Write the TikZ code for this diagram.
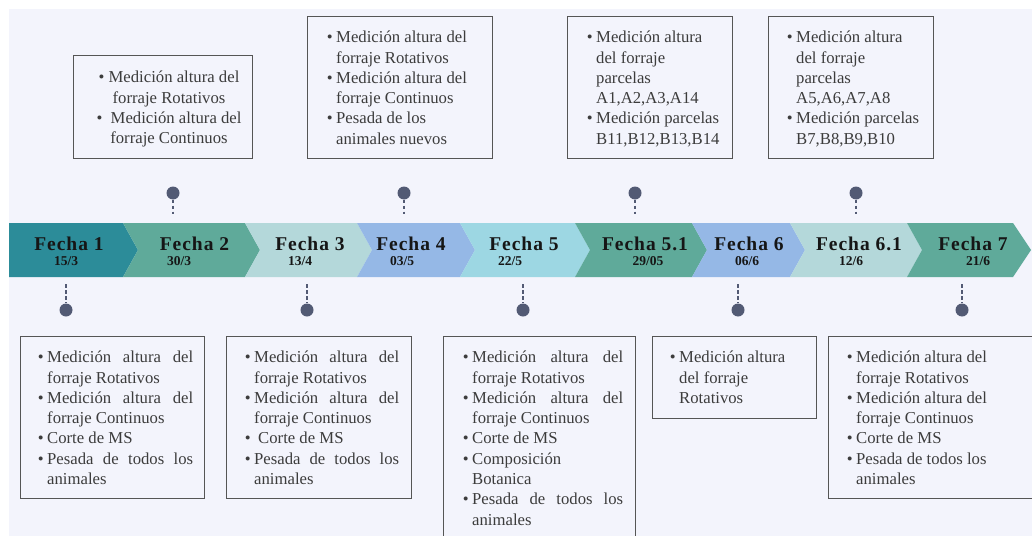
\documentclass[tikz,border=0pt]{standalone}
\usepackage{fontspec}
\setmainfont{Liberation Serif}
\newfontfamily\fechafont[LetterSpace=5]{Liberation Serif}
\definecolor{bg}{HTML}{F3F4FC}
\definecolor{txtc}{HTML}{3C3C3C}
\definecolor{boxc}{HTML}{555555}
\definecolor{fc}{HTML}{161616}
\definecolor{pinc}{HTML}{525A74}
\definecolor{cA}{HTML}{2C8C99}
\definecolor{cB}{HTML}{5FAA9A}
\definecolor{cC}{HTML}{B4D8DA}
\definecolor{cD}{HTML}{95B8E6}
\definecolor{cE}{HTML}{9DD7E3}
\newcommand{\bu}{\llap{\textbullet\kern3.5pt}}
\newcommand{\jl}[2]{\makebox[#1][s]{#2}}
\begin{document}
\begin{tikzpicture}[x=1pt,y=-1pt,
  txt/.style={font=\fontsize{16.7}{20.3}\selectfont, text=txtc, inner sep=0pt, align=left, anchor=north west},
  bx/.style={draw=boxc, line width=1.3pt, fill=bg, inner sep=0pt, anchor=north west},
  flab/.style={font=\fechafont\bfseries\fontsize{19.5}{21}\selectfont, text=fc, inner sep=0pt, anchor=base},
  fdate/.style={font=\bfseries\fontsize{13.5}{15}\selectfont, text=fc, inner sep=0pt, anchor=base},
  pin/.style={circle, fill=pinc, minimum size=13pt, inner sep=0pt},
  dashln/.style={draw=pinc, line width=2pt, dash pattern=on 3.5pt off 2.5pt}]
\useasboundingbox (0,0) rectangle (1032,535);
\clip (0,0) rectangle (1032,535);
\fill[bg] (9,9) rectangle (1040,540);
% chevrons
\fill[cA] (9,223) -- (123,223) -- (138,250) -- (123,277) -- (9,277) -- cycle;
\foreach \a/\b/\c in {123/245/cB, 245/357/cC, 357/460/cD, 460/575/cE, 575/692/cB, 692/790/cD, 790/907/cC}
  \fill[\c] (\a,223) -- (\b,223) -- ++(15,27) -- (\b,277) -- (\a,277) -- ++(15,-27) -- cycle;
\fill[cB] (907,223) -- (1013,223) -- (1031,250) -- (1013,277) -- (907,277) -- (922,250) -- cycle;
% labels
\node[flab] (f1) at (69,250) {Fecha 1};
\node[flab] (f2) at (194.5,250) {Fecha 2};
\node[flab] (f3) at (310,250) {Fecha 3};
\node[flab] (f4) at (411,250) {Fecha 4};
\node[flab] (f5) at (524,250) {Fecha 5};
\node[flab] (f51) at (645,250) {Fecha 5.1};
\node[flab] (f6) at (749,250) {Fecha 6};
\node[flab] (f61) at (859,250) {Fecha 6.1};
\node[flab] (f7) at (973,250) {Fecha 7};
\node[fdate] (d1) at (66,265) {15/3};
\node[fdate] (d2) at (179,265) {30/3};
\node[fdate] (d3) at (300,265) {13/4};
\node[fdate] (d4) at (402,265) {03/5};
\node[fdate] (d5) at (510,265) {22/5};
\node[fdate] (d51) at (648,265) {29/05};
\node[fdate] (d6) at (747,265) {06/6};
\node[fdate] (d61) at (851,265) {12/6};
\node[fdate] (d7) at (978,265) {21/6};
% pins top
\foreach \n/\x in {P2/173, P4/404, P51/635, P61/856}{
  \node[pin] (\n) at (\x,193) {};
  \coordinate (e\n) at (\x,214);
  \draw[dashln] (\n.south) -- (e\n);
}
% pins bottom
\foreach \n/\x in {P1/66, P3/307, P5/523, P6/738, P7/962}{
  \node[pin] (\n) at (\x,310) {};
  \coordinate (e\n) at (\x,284);
  \draw[dashln] (e\n) -- (\n.north);
}
% boxes top
\node[bx, minimum width=179pt, minimum height=103pt] (T1) at (73,55) {};
\node[bx, minimum width=185pt, minimum height=142pt] (T2) at (307,16) {};
\node[bx, minimum width=165pt, minimum height=142pt] (T3) at (567,16) {};
\node[bx, minimum width=165pt, minimum height=142pt] (T4) at (768,16) {};
% boxes bottom
\node[bx, minimum width=184pt, minimum height=162pt] (B1) at (20,336) {};
\node[bx, minimum width=185pt, minimum height=162pt] (B2) at (226,336) {};
\node[bx, minimum width=192pt, minimum height=220pt] (B3) at (443,336) {};
\node[bx, minimum width=164pt, minimum height=82pt] (B4) at (652,336) {};
\node[bx, minimum width=220pt, minimum height=162pt] (B5) at (828,336) {};
% texts top
\node[txt, align=center, anchor=north] (tT1) at (169,68.29) {\strut\textbullet\ Medición altura del\\forraje Rotativos\\\textbullet\ \ Medición altura del\\forraje Continuos};
\node[txt] (tT2) at (336,28.29) {\strut\bu Medición altura del\\forraje Rotativos\\\bu Medición altura del\\forraje Continuos\\\bu Pesada de los\\animales nuevos};
\node[txt] (tT3) at (596,28.29) {\strut\bu Medición altura\\del forraje\\parcelas\\A1,A2,A3,A14\\\bu Medición parcelas\\B11,B12,B13,B14};
\node[txt] (tT4) at (796,28.29) {\strut\bu Medición altura\\del forraje\\parcelas\\A5,A6,A7,A8\\\bu Medición parcelas\\B7,B8,B9,B10};
% texts bottom
\node[txt] (tB1) at (47,348.29) {\strut\bu\jl{146pt}{Medición altura del}\\forraje Rotativos\\\bu\jl{146pt}{Medición altura del}\\forraje Continuos\\\bu Corte de MS\\\bu\jl{146pt}{Pesada de todos los}\\animales};
\node[txt] (tB2) at (254,348.29) {\strut\bu\jl{145pt}{Medición altura del}\\forraje Rotativos\\\bu\jl{145pt}{Medición altura del}\\forraje Continuos\\\bu\kern4pt Corte de MS\\\bu\jl{145pt}{Pesada de todos los}\\animales};
\node[txt] (tB3) at (472,348.29) {\strut\bu\jl{151pt}{Medición altura del}\\forraje Rotativos\\\bu\jl{151pt}{Medición altura del}\\forraje Continuos\\\bu Corte de MS\\\bu Composición\\Botanica\\\bu\jl{151pt}{Pesada de todos los}\\animales};
\node[txt] (tB4) at (679,348.29) {\strut\bu Medición altura\\del forraje\\Rotativos};
\node[txt] (tB5) at (856,348.29) {\strut\bu Medición altura del\\forraje Rotativos\\\bu Medición altura del\\forraje Continuos\\\bu Corte de MS\\\bu Pesada de todos los\\animales};
\end{tikzpicture}
\end{document}
